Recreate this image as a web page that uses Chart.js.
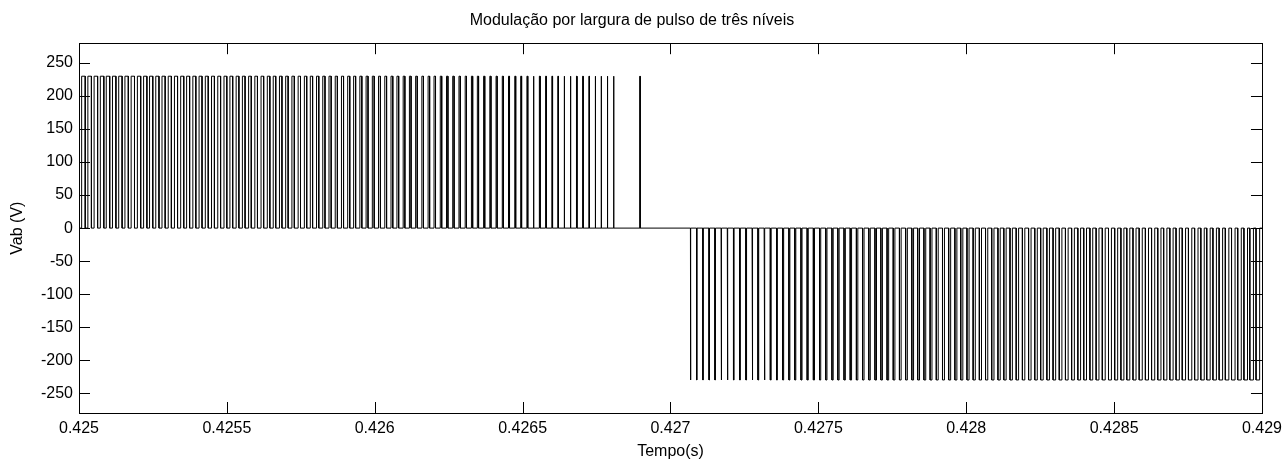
<!DOCTYPE html>
<html>
<head>
<meta charset="utf-8">
<script src="https://cdn.jsdelivr.net/npm/chart.js@4.4.0/dist/chart.umd.min.js"></script>
<style>
  body { margin: 0; background: #fff; }
  #wrap { width: 1288px; height: 464px; }
</style>
</head>
<body>
<div id="wrap"><canvas id="plot" width="1288" height="464"></canvas></div>
<script>
// time offsets are in microseconds after t0
var t0 = 0.425;
var tEnd = 0.429;
var level = 230;

// positive half: pulse centres and widths (us)
var posCenters = [15, 36, 57, 78, 98, 119, 140, 161, 182, 203,
  224, 244, 265, 286, 307, 328, 349, 369, 390, 411,
  432, 453, 474, 495, 515, 536, 557, 578, 599, 620,
  641, 661, 682, 703, 724, 745, 766, 786, 807, 828,
  849, 870, 891, 912, 932, 953, 974, 995, 1016, 1037,
  1058, 1078, 1099, 1120, 1141, 1162, 1183, 1203, 1224, 1245,
  1266, 1287, 1308, 1329, 1349, 1370, 1391, 1412, 1433, 1454,
  1475, 1495, 1516, 1537, 1558, 1579, 1600, 1620, 1641, 1662,
  1683, 1704, 1725, 1746, 1766, 1787, 1808, 1897];
var posWidths = [12.1, 12.0, 11.9, 11.8, 11.7, 11.6, 11.5, 11.4, 11.3, 11.2,
  11.1, 10.9, 10.8, 10.7, 10.6, 10.5, 10.4, 10.2, 10.1, 10.0,
  9.9, 9.8, 9.6, 9.5, 9.4, 9.3, 9.1, 9.0, 8.9, 8.8,
  8.6, 8.5, 8.4, 8.3, 8.1, 8.0, 7.9, 7.8, 7.6, 7.5,
  7.4, 7.2, 7.1, 7.0, 6.8, 6.7, 6.5, 6.4, 6.3, 6.1,
  6.0, 5.9, 5.7, 5.6, 5.4, 5.3, 5.2, 5.0, 4.9, 4.8,
  4.6, 4.5, 4.3, 4.2, 4.1, 3.9, 3.8, 3.6, 3.5, 3.4,
  3.2, 3.1, 2.9, 2.8, 2.7, 2.5, 2.4, 2.2, 2.1, 2.0,
  1.8, 1.7, 1.6, 1.4, 1.3, 1.2, 1.1, 1.0];

// negative half
var negCenters = [2068, 2089, 2110, 2131, 2151, 2172, 2193, 2214, 2235, 2256,
  2277, 2297, 2318, 2339, 2360, 2381, 2402, 2422, 2443, 2464,
  2485, 2506, 2527, 2548, 2568, 2589, 2610, 2631, 2652, 2673,
  2694, 2714, 2735, 2756, 2777, 2798, 2819, 2839, 2860, 2881,
  2902, 2923, 2944, 2965, 2985, 3006, 3027, 3048, 3069, 3090,
  3111, 3131, 3152, 3173, 3194, 3215, 3236, 3256, 3277, 3298,
  3319, 3340, 3361, 3382, 3402, 3423, 3444, 3465, 3486, 3507,
  3528, 3548, 3569, 3590, 3611, 3632, 3653, 3673, 3694, 3715,
  3736, 3757, 3778, 3799, 3819, 3840, 3861, 3882, 3903, 3924,
  3945, 3965, 3986];
var negWidths = [1.2, 1.3, 1.4, 1.6, 1.7, 1.8, 2.0, 2.1, 2.2, 2.4,
  2.5, 2.6, 2.8, 2.9, 3.0, 3.2, 3.3, 3.4, 3.6, 3.7,
  3.8, 4.0, 4.1, 4.2, 4.4, 4.5, 4.6, 4.8, 4.9, 5.0,
  5.2, 5.3, 5.4, 5.6, 5.7, 5.8, 5.9, 6.1, 6.2, 6.3,
  6.5, 6.6, 6.7, 6.8, 7.0, 7.1, 7.2, 7.3, 7.5, 7.6,
  7.7, 7.8, 8.0, 8.1, 8.2, 8.3, 8.5, 8.6, 8.7, 8.8,
  8.9, 9.1, 9.2, 9.3, 9.4, 9.5, 9.6, 9.8, 9.9, 10.0,
  10.1, 10.2, 10.3, 10.4, 10.5, 10.7, 10.8, 10.9, 11.0, 11.1,
  11.2, 11.3, 11.4, 11.5, 11.6, 11.7, 11.8, 11.9, 11.9, 12.0,
  12.1, 12.2, 12.2];

var xTicks = [0.425, 0.4255, 0.426, 0.4265, 0.427, 0.4275, 0.428, 0.4285, 0.429];
var yTicks = [-250, -200, -150, -100, -50, 0, 50, 100, 150, 200, 250];

function buildPoints() {
  var pts = [{x: t0, y: 0}];
  let addPulses = (centers, widths, v) => {
    for (let i = 0; i < centers.length; i++) {
      var a = t0 + (centers[i] - widths[i] / 2) * 1e-6;
      var b = t0 + (centers[i] + widths[i] / 2) * 1e-6;
      pts.push({x: a, y: 0}, {x: a, y: v}, {x: b, y: v}, {x: b, y: 0});
    }
  };
  addPulses(posCenters, posWidths, level);
  addPulses(negCenters, negWidths, -level);
  pts.push({x: tEnd, y: 0});
  return pts;
}

var font = {family: 'Liberation Sans, Arial, sans-serif', size: 16};

// MATLAB style box with ticks pointing inwards
var innerTicks = {
  id: 'innerTicks',
  afterDraw(chart) {
    var ctx = chart.ctx;
    var a = chart.chartArea;
    var x = chart.scales.x, y = chart.scales.y;
    var len = 11;
    ctx.save();
    ctx.strokeStyle = '#000';
    ctx.lineWidth = 1;
    ctx.beginPath();
    for (let v of xTicks) {
      var px = Math.round(x.getPixelForValue(v)) + 0.5;
      ctx.moveTo(px, a.bottom); ctx.lineTo(px, a.bottom - len);
      ctx.moveTo(px, a.top); ctx.lineTo(px, a.top + len);
    }
    for (let v of yTicks) {
      var py = Math.round(y.getPixelForValue(v)) + 0.5;
      ctx.moveTo(a.left, py); ctx.lineTo(a.left + len, py);
      ctx.moveTo(a.right, py); ctx.lineTo(a.right - len, py);
    }
    ctx.stroke();
    ctx.strokeRect(Math.round(a.left) + 0.5, Math.round(a.top) + 0.5,
      Math.round(a.right - a.left), Math.round(a.bottom - a.top));
    ctx.restore();
  }
};

const config = {
  type: 'line',
  data: {
    datasets: [{
      data: buildPoints(),
      borderColor: '#000',
      borderWidth: 1,
      pointRadius: 0,
      tension: 0
    }]
  },
  options: {
    responsive: false,
    animation: false,
    parsing: false,
    layout: {padding: {left: 0, right: 24, top: 0, bottom: 0}},
    plugins: {
      legend: {display: false},
      tooltip: {enabled: false},
      title: {
        display: true,
        text: 'Modulação por largura de pulso de três níveis',
        color: '#000',
        font: {family: font.family, size: 16, weight: 'normal'},
        padding: {top: 11, bottom: 13}
      }
    },
    scales: {
      x: {
        type: 'linear',
        min: t0,
        max: tEnd,
        grid: {display: false, drawTicks: false},
        border: {display: false},
        afterBuildTicks: (s) => { s.ticks = xTicks.map(v => ({value: v})); },
        afterFit: (s) => { s.height = 51; },
        ticks: {
          color: '#000',
          font: font,
          padding: 6,
          maxRotation: 0,
          autoSkip: false,
          callback: (v) => String(+v.toFixed(4))
        },
        title: {
          display: true,
          text: 'Tempo(s)',
          color: '#000',
          font: font,
          padding: {top: 0, bottom: 3}
        }
      },
      y: {
        min: -280,
        max: 280,
        grid: {display: false, drawTicks: false},
        border: {display: false},
        afterBuildTicks: (s) => { s.ticks = yTicks.map(v => ({value: v})); },
        afterFit: (s) => { s.width = 79; },
        ticks: {
          color: '#000',
          font: font,
          padding: 6
        },
        title: {
          display: true,
          text: 'Vab (V)',
          color: '#000',
          font: font,
          padding: {top: 8, bottom: 0}
        }
      }
    }
  },
  plugins: [innerTicks]
};

var chart = new Chart(document.getElementById('plot').getContext('2d'), config);
</script>
</body>
</html>
